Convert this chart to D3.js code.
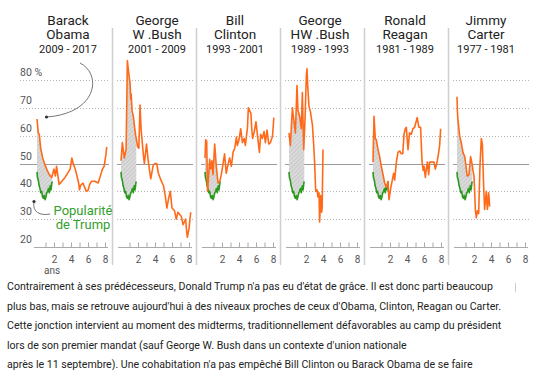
<!DOCTYPE html>
<html>
<head>
<meta charset="utf-8">
<script src="https://cdn.jsdelivr.net/npm/d3@7"></script>
<style>
  body { margin: 0; background: #fff; }
  svg { display: block; font-family: Roboto, sans-serif; }
</style>
</head>
<body>
<svg id="chart" width="555" height="370"></svg>
<script>
// approval ratings, [years in office, % approval]
const trump = [[0,47],[0.05,45],[0.15,44],[0.25,42],[0.35,41],[0.45,39.5],[0.55,40],[0.65,38],[0.75,37.5],[0.85,38.5],[0.95,37],[1.05,38],[1.15,39.5],[1.25,40],[1.35,41],[1.45,39.5],[1.55,42],[1.65,40.5],[1.75,43],[1.8,43.5]];

const obama = [[0,66],[0.15,61],[0.27,60.5],[0.43,55.5],[0.67,52],[0.94,49.5],[1.2,47.5],[1.45,46],[1.73,45],[2.0,48],[2.16,45.5],[2.3,49],[2.6,42.5],[2.9,43.5],[3.3,45],[3.7,47],[3.9,48],[4.1,52],[4.3,49.5],[4.5,48],[4.7,45.5],[4.9,43],[5.0,40.5],[5.1,42],[5.4,43],[5.6,41.5],[5.8,40],[6.0,40.3],[6.2,42.5],[6.4,43.6],[6.8,43.6],[7.2,43],[7.5,46],[7.7,48],[7.9,49],[8.0,51],[8.1,53],[8.2,56]];

const bush = [[0,51],[0.16,57.5],[0.39,52],[0.6,55],[0.75,87],[0.85,84],[1.06,79],[1.15,73],[1.2,75],[1.3,69],[1.45,67],[1.6,63],[1.73,60],[1.85,58],[1.96,56],[2.1,55.5],[2.24,71],[2.35,63],[2.43,60],[2.6,54],[2.75,50],[3.0,57],[3.2,51],[3.5,44.5],[3.8,49.5],[4.0,50],[4.2,50],[4.4,46.5],[4.7,44],[5.0,42],[5.2,38.5],[5.4,34],[5.6,37.5],[5.8,40],[6.0,34],[6.3,33],[6.5,30],[6.7,32.5],[7.1,31],[7.3,28],[7.6,30],[7.7,26.5],[7.8,23.5],[8.0,26.5],[8.2,32.5]];

const clinton = [[0,52],[0.08,58.5],[0.2,58],[0.3,40],[0.55,51.5],[0.67,48],[0.82,51],[0.94,46],[1.14,57],[1.33,49],[1.53,43],[1.73,43.5],[1.92,46],[2.1,49.5],[2.3,53.5],[2.5,46.5],[2.7,49.5],[2.9,52],[3.1,49],[3.3,54],[3.5,55.5],[3.7,59.5],[3.8,56.5],[4.0,58.5],[4.2,62.5],[4.4,57.5],[4.6,59],[4.75,56.5],[5.0,63],[5.1,70],[5.4,68],[5.5,62.5],[5.6,59],[5.8,61.5],[6.0,65],[6.2,59.5],[6.4,54],[6.55,60.5],[6.75,59],[6.95,61.5],[7.1,57.5],[7.3,62],[7.5,57],[7.7,57.5],[7.95,60],[8.1,66.5]];

const hwBush = [[0,61],[0.16,56.5],[0.4,70],[0.55,66],[0.75,61],[0.94,78],[1.06,69],[1.25,67],[1.45,62.5],[1.57,75.5],[1.73,55],[1.88,65.5],[2.04,81.5],[2.12,84],[2.2,78],[2.35,70.5],[2.5,69],[2.75,64],[2.9,57],[3.02,50],[3.14,40],[3.3,40.5],[3.4,38],[3.53,39.5],[3.6,29],[3.73,38.5],[3.84,32.5],[3.9,34],[4.0,55]];

const reagan = [[0,50.5],[0.12,67],[0.27,59],[0.39,58.5],[0.59,55],[0.78,52.5],[0.98,49],[1.18,46],[1.37,43],[1.57,41.5],[1.76,43.5],[1.88,37],[2.08,41],[2.27,44],[2.43,46.5],[2.55,44],[2.75,50.5],[2.94,54],[3.14,54.5],[3.33,53.5],[3.5,53.5],[3.65,60.5],[3.8,62.5],[3.92,63],[4.12,55],[4.3,61],[4.5,60.5],[4.7,62.5],[4.9,63],[5.2,66.5],[5.4,63],[5.6,63],[5.76,51],[5.9,47.5],[6.0,49],[6.16,45],[6.27,48],[6.4,50.5],[6.55,46],[6.67,50.5],[6.94,50.5],[7.18,50.5],[7.33,48],[7.57,51],[7.7,53.5],[7.84,56.5],[7.96,62.5]];

const carter = [[0,74],[0.06,68],[0.12,65.5],[0.31,60],[0.5,57.5],[0.7,54],[0.9,52.5],[1.02,50],[1.2,45.5],[1.41,46],[1.6,52.5],[1.76,50],[1.88,47.5],[2.0,45.5],[2.16,33.5],[2.27,30.5],[2.4,33],[2.55,32],[2.7,49],[2.86,59],[2.98,57],[3.14,41.5],[3.25,33.5],[3.45,40],[3.57,33.5],[3.73,39.5],[3.84,34.5]];

const presidents = [["Barack","Obama"],["George","W .Bush"],["Bill","Clinton"],["George","HW .Bush"],["Ronald","Reagan"],["Jimmy","Carter"]];
const terms = ["2009 - 2017","2001 - 2009","1993 - 2001","1989 - 1993","1981 - 1989","1977 - 1981"];
const series = [obama, bush, clinton, hwBush, reagan, carter];

const yTicks = [20, 30, 40, 50, 60, 70, 80];
const xTicks = [1, 2, 3, 4, 5, 6, 7, 8];

const paragraph = [
  "Contrairement à ses prédécesseurs, Donald Trump n'a pas eu d'état de grâce. Il est donc parti beaucoup",
  "plus bas, mais se retrouve aujourd'hui à des niveaux proches de ceux d'Obama, Clinton, Reagan ou Carter.",
  "Cette jonction intervient au moment des midterms, traditionnellement défavorables au camp du président",
  "lors de son premier mandat (sauf George W. Bush dans un contexte d'union nationale",
  "après le 11 septembre). Une cohabitation n'a pas empêché Bill Clinton ou Barack Obama de se faire"
];

//layout
const orange = "#ff6a1a", green = "#2a9a1e";
const firstX = 37, panelStep = 84;
const titleShift = [31, 36, 30, 31, 32, 29];

const svg = d3.select("#chart");

//hatched fill for the gap between Trump and each predecessor
const pat = svg.append("defs").append("pattern")
  .attr("id", "hatch")
  .attr("patternUnits", "userSpaceOnUse")
  .attr("width", 3).attr("height", 3)
  .attr("patternTransform", "rotate(45)");
pat.append("rect").attr("width", 3).attr("height", 3).attr("fill", "#dadada");
pat.append("line").attr("x1", 0).attr("y1", 0).attr("x2", 0).attr("y2", 3)
  .attr("stroke", "#b8b8b8").attr("stroke-width", 1);

const y = d3.scaleLinear().domain([20, 80]).range([247, 80]);

//polygon: trump line forward, president line back (clipped at trump's last point)
function gapPolygon(pres, tr) {
  const end = tr[tr.length - 1][0];
  const top = pres.filter(d => d[0] <= end);
  const i = pres.findIndex(d => d[0] > end);
  if (i > 0) {
    const a = pres[i - 1], b = pres[i];
    const t = (end - a[0]) / (b[0] - a[0]);
    top.push([end, a[1] + t * (b[1] - a[1])]);
  }
  return tr.concat(top.reverse());
}

series.forEach((data, i) => {
  const x0 = firstX + i * panelStep;
  const x = d3.scaleLinear().domain([0, 8]).range([x0, x0 + 68]);
  const g = svg.append("g");

  //separator
  if (i > 0) {
    g.append("line")
      .attr("x1", x0 - 8.5).attr("x2", x0 - 8.5)
      .attr("y1", 28).attr("y2", 265)
      .attr("stroke", "#cfcfcf").attr("stroke-width", 1.5);
  }

  //titles
  const cx = x0 + titleShift[i];
  g.selectAll(".name")
    .data(presidents[i])
    .enter()
    .append("text")
    .attr("x", cx)
    .attr("y", (d, k) => 24.5 + k * 14.5)
    .attr("text-anchor", "middle")
    .style("font-size", "13.5px")
    .style("fill", "#222")
    .text(d => d);
  g.append("text")
    .attr("x", cx).attr("y", 52.5)
    .attr("text-anchor", "middle")
    .style("font-size", "11px")
    .style("fill", "#222")
    .text(terms[i]);

  //grid
  const gx1 = i === 0 ? 20 : x0 - 4;
  const gx2 = x0 + 72;
  g.selectAll(".grid")
    .data(yTicks.filter(v => v !== 20))
    .enter()
    .append("line")
    .attr("x1", gx1).attr("x2", gx2)
    .attr("y1", d => Math.round(y(d)) + 0.5)
    .attr("y2", d => Math.round(y(d)) + 0.5)
    .attr("stroke", d => d === 50 ? "#9a9a9a" : "#b5b5b5")
    .attr("stroke-dasharray", d => d === 50 ? null : "1,2")
    .attr("stroke-width", 1);

  //x axis
  const axis = g.append("g")
    .attr("transform", `translate(0,${Math.round(y(20)) + 0.5})`)
    .call(d3.axisBottom(x)
      .tickValues(xTicks)
      .tickSize(-5)
      .tickPadding(8)
      .tickFormat(d => d % 2 === 0 ? d : ""));
  axis.select(".domain").remove();
  axis.append("line")
    .attr("x1", x(-0.35)).attr("x2", x(8.35))
    .attr("stroke", "#aaa");
  axis.selectAll(".tick line").attr("stroke", "#aaa");
  axis.selectAll(".tick text")
    .style("font-family", "Roboto, sans-serif")
    .style("font-size", "10px")
    .style("fill", "#555");

  //gap fill
  g.append("path")
    .attr("d", d3.line().x(d => x(d[0])).y(d => y(d[1]))(gapPolygon(data, trump)) + "Z")
    .attr("fill", "url(#hatch)");

  const line = d3.line().x(d => x(d[0])).y(d => y(d[1]));
  g.append("path")
    .attr("d", line(trump))
    .attr("fill", "none")
    .attr("stroke", green)
    .attr("stroke-width", 1.6)
    .attr("stroke-linejoin", "round");
  g.append("path")
    .attr("d", line(data))
    .attr("fill", "none")
    .attr("stroke", orange)
    .attr("stroke-width", 1.6)
    .attr("stroke-linejoin", "round");
});

//y labels (first panel only)
svg.selectAll(".ylab")
  .data(yTicks)
  .enter()
  .append("text")
  .attr("x", 20)
  .attr("y", d => y(d) - 4)
  .style("font-size", "10.5px")
  .style("fill", "#555")
  .text(d => d === 80 ? "80 %" : d);

svg.append("text")
  .attr("x", 52).attr("y", 274)
  .attr("text-anchor", "middle")
  .style("font-size", "10px")
  .style("fill", "#555")
  .text("ans");

//annotations
svg.append("path")
  .attr("d", "M80,63 C102,74 98,113 47,117")
  .attr("fill", "none").attr("stroke", "#777").attr("stroke-width", 1);
svg.append("circle").attr("cx", 46.5).attr("cy", 117).attr("r", 1.6).attr("fill", "#333");
svg.append("path")
  .attr("d", "M34,202 C32,212 40,216 50,214")
  .attr("fill", "none").attr("stroke", "#777").attr("stroke-width", 1);
svg.append("circle").attr("cx", 34).attr("cy", 201.5).attr("r", 1.6).attr("fill", "#333");

svg.selectAll(".trumpLab")
  .data(["Popularité", "de Trump"])
  .enter()
  .append("text")
  .attr("x", 83)
  .attr("y", (d, k) => 215 + k * 13.5)
  .attr("text-anchor", "middle")
  .style("font-size", "13px")
  .style("fill", "#33a02c")
  .text(d => d);

//paragraph under the chart
svg.selectAll(".para")
  .data(paragraph)
  .enter()
  .append("text")
  .attr("x", 7)
  .attr("y", (d, k) => 290 + k * 19.5)
  .style("font-size", "10.6px")
  .style("fill", "#222")
  .text(d => d);

svg.append("line")
  .attr("x1", 515.5).attr("x2", 515.5).attr("y1", 283).attr("y2", 292)
  .attr("stroke", "#ccc");
</script>
</body>
</html>
